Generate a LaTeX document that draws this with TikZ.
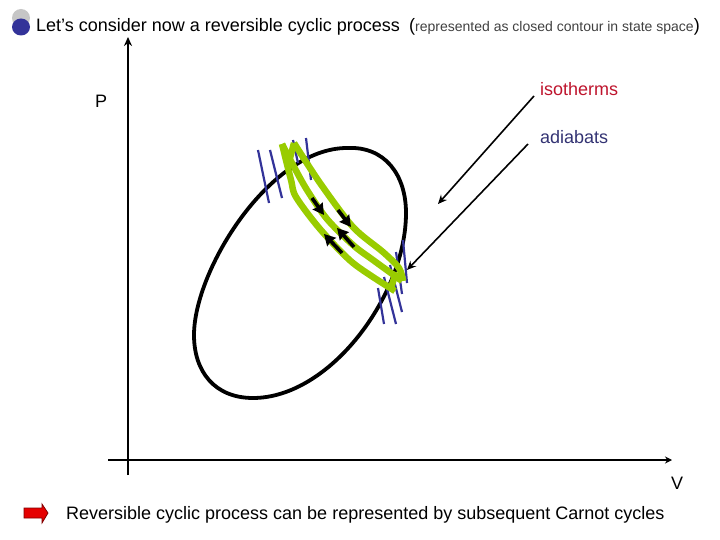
\documentclass[tikz,border=0pt]{standalone}
\usepackage{fontspec}
\setmainfont{Liberation Sans}
\usetikzlibrary{arrows.meta}
\definecolor{leaf}{RGB}{153,204,0}
\definecolor{adiab}{RGB}{51,51,153}
\definecolor{adtxt}{RGB}{51,51,115}
\definecolor{isotxt}{RGB}{190,20,45}
\definecolor{dimtxt}{RGB}{64,64,64}
\tikzset{
 px/.style={x=1pt,y=-1pt},
 label/.style={inner sep=0pt,anchor=base west,font=\fontsize{18pt}{20pt}\selectfont},
 axisline/.style={line width=2.2pt,black},
 pointer/.style={line width=1.6pt,black,-{Stealth[length=9pt,width=8pt]}},
 contour/.style={line width=3.8pt,black},
 isotherm/.style={line width=6.5pt,leaf,line join=round},
 adiabat/.style={line width=2.2pt,adiab},
 flow/.style={line width=3.6pt,black,-{Stealth[length=11pt,width=12pt,inset=1pt]}}
}
\begin{document}
\begin{tikzpicture}[px]
\useasboundingbox (0,0) rectangle (720,540);
% bullet
\fill[gray!45] (21,18) ellipse (9 and 9);
\fill[adiab] (21,27) ellipse (9 and 8.5);
% axes
\coordinate (ptop) at (128,37); \coordinate (pbot) at (128,475);
\coordinate (vl) at (108,460); \coordinate (vr) at (672,460);
\draw[axisline,-{Stealth[length=9pt,width=8pt]}] (pbot) -- (ptop);
\draw[axisline,-{Stealth[length=7pt,width=7pt]}] (vl) -- (vr);
% contour
\draw[contour] (347,148) .. controls (385,146) and (406,175) .. (406,213)
 .. controls (406,295) and (330,398) .. (253,398)
 .. controls (215,398) and (194,372) .. (194,335)
 .. controls (194,270) and (270,148) .. (347,148) -- cycle;
% adiabats
\draw[adiabat] (258,150) -- (269,203);
\draw[adiabat] (270,150) -- (282,198);
\draw[adiabat] (293,140) -- (298,163);
\draw[adiabat] (306,138) -- (311,180);
\draw[adiabat] (378,288) -- (384,324);
\draw[adiabat] (384,277) -- (396,324);
\draw[adiabat] (390,265) -- (402,312);
\draw[adiabat] (396,252) -- (402,294);
\draw[adiabat] (403,240) -- (407,283);
% isotherms
\draw[isotherm] plot[smooth,tension=.5] coordinates {(282,144) (291,180) (296,197) (320,229) (353,263) (395,291)};
\draw[isotherm] plot[smooth,tension=.5] coordinates {(282,144) (293,165) (307,190) (327,219) (353,245) (373,260) (402,281)};
\draw[isotherm] (294,143) -- (289,162);
\draw[isotherm] plot[smooth,tension=.5] coordinates {(294,143) (320,183) (353,227) (383,252) (399,268) (403,281)};
\draw[isotherm] (396,272) -- (391,288);
% flows
\draw[flow] (312,198) -- (324,215);
\draw[flow] (338,210) -- (351,227);
\draw[flow] (354,247) -- (337,228);
\draw[flow] (342,253) -- (324,234);
% pointers
\coordinate (isoA) at (534,96);
\coordinate (isoB) at (438,204);
\coordinate (adA) at (528,144);
\coordinate (adB) at (407,270);
\draw[pointer] (isoA) -- (isoB);
\draw[pointer] (adA) -- (adB);
% labels
\node[label] (title) at (36,32) {Let’s consider now a reversible cyclic process};
\node[label] (sub) at (409,32) {(\textcolor{dimtxt}{\fontsize{14pt}{16pt}\selectfont represented as closed contour in state space})};
\node[label] (p) at (95,108) {P};
\node[label,text=isotxt] (iso) at (540,96) {isotherms};
\node[label,text=adtxt] (ad) at (540,144) {adiabats};
\node[label] (v) at (671,489) {V};
\node[label] (concl) at (66,519) {Reversible cyclic process can be represented by subsequent Carnot cycles};
% red arrow
\fill[red!90!black,draw=red!50!black,line width=.8pt] (24,508) -- (42,508) -- (42,504) -- (48,513) -- (42,523) -- (42,518) -- (24,518) -- cycle;
\end{tikzpicture}
\end{document}
